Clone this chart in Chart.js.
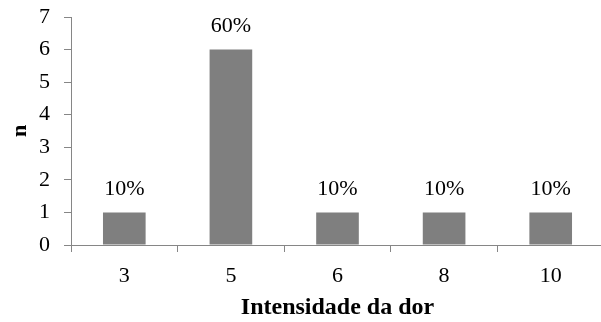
<!DOCTYPE html>
<html>
<head>
<meta charset="utf-8">
<script src="https://cdn.jsdelivr.net/npm/chart.js@4/dist/chart.umd.min.js"></script>
<style>
  html, body { margin: 0; padding: 0; background: #fff; overflow: hidden; }
  #wrap { width: 604px; height: 322px; }
  .probe { font-family: 'Liberation Serif'; position: absolute; left: -999px; }
</style>
</head>
<body>
<span class="probe">0</span><span class="probe" style="font-weight:bold">n</span>
<div id="wrap"><canvas id="chart" width="604" height="322"></canvas></div>
<script>
// Pain intensity scores and number of patients reporting each one
const categories = ['3', '5', '6', '8', '10'];
const counts = [1, 6, 1, 1, 1];
const yTicks = [0, 1, 2, 3, 4, 5, 6, 7];

const total = counts.reduce((a, b) => a + b, 0);
const FONT = '"Liberation Serif", "Times New Roman", serif';
const AXIS = '#868686';

// Writes the share of patients above each bar
const percentLabels = {
  id: 'percentLabels',
  afterDatasetsDraw(chart) {
    const ctx = chart.ctx;
    const meta = chart.getDatasetMeta(0);
    ctx.save();
    ctx.font = '22px ' + FONT;
    ctx.fillStyle = '#000';
    ctx.textAlign = 'center';
    ctx.textBaseline = 'middle';
    meta.data.forEach((bar, i) => {
      const pct = Math.round(counts[i] / total * 100) + '%';
      ctx.fillText(pct, bar.x, bar.y - 23);
    });
    ctx.restore();
  }
};

function draw() {
  new Chart(document.getElementById('chart'), {
    type: 'bar',
    data: {
      labels: categories,
      datasets: [{
        data: counts,
        backgroundColor: '#7f7f7f',
        borderWidth: 0,
        categoryPercentage: 1,
        barPercentage: 0.4
      }]
    },
    options: {
      responsive: false,
      animation: false,
      layout: { padding: { top: 17, left: 0, right: 0, bottom: 0 } },
      plugins: { legend: { display: false }, tooltip: { enabled: false } },
      scales: {
        x: {
          grid: { display: true, drawOnChartArea: false, drawTicks: true, tickLength: 7, color: AXIS, offset: true },
          border: { display: true, color: AXIS, width: 1 },
          ticks: { color: '#000', font: { family: FONT, size: 22 }, padding: 11, maxRotation: 0 },
          title: { display: true, text: 'Intensidade da dor', color: '#000', font: { family: FONT, size: 24, weight: 'bold' }, padding: { top: 4, bottom: 0 } },
          afterFit(scale) { scale.height = 77; scale.paddingLeft = 0; scale.paddingRight = 0; }
        },
        y: {
          min: 0,
          max: 7,
          afterBuildTicks(scale) { scale.ticks = yTicks.map(v => ({ value: v })); },
          grid: { display: true, drawOnChartArea: false, drawTicks: true, tickLength: 7, color: AXIS },
          border: { display: true, color: AXIS, width: 1 },
          ticks: { color: '#000', font: { family: FONT, size: 22 }, padding: 14 },
          title: { display: true, text: 'n', color: '#000', font: { family: FONT, size: 22, weight: 'bold' }, padding: { top: 7, bottom: 0 } },
          afterFit(scale) { scale.width = 71; scale.paddingTop = 0; scale.paddingBottom = 0; }
        }
      }
    },
    plugins: [percentLabels]
  });
}

Promise.all([
  document.fonts.load('22px "Liberation Serif"'),
  document.fonts.load('bold 24px "Liberation Serif"')
]).then(draw, draw);
</script>
</body>
</html>
